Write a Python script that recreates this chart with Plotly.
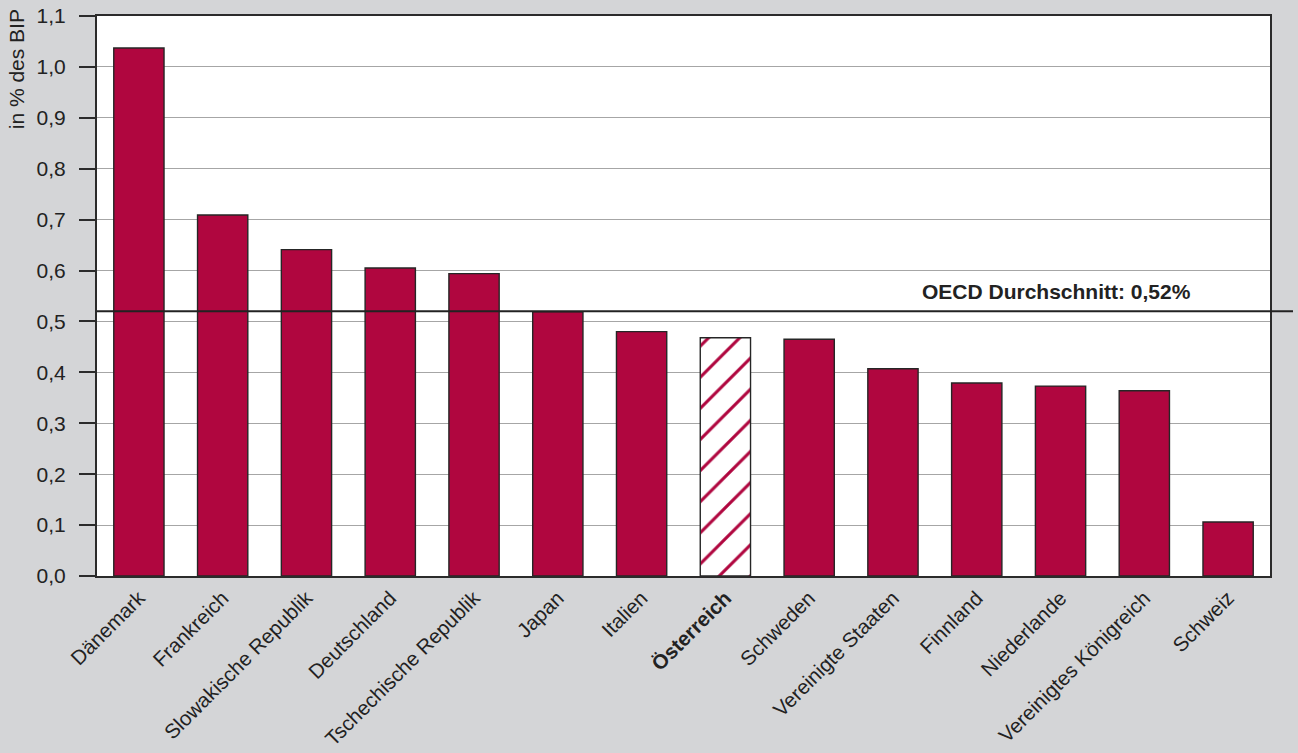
import plotly.graph_objects as go

countries = ["Dänemark", "Frankreich", "Slowakische Republik", "Deutschland",
             "Tschechische Republik", "Japan", "Italien", "Österreich", "Schweden",
             "Vereinigte Staaten", "Finnland", "Niederlande", "Vereinigtes Königreich", "Schweiz"]
values = [1.037, 0.709, 0.641, 0.605, 0.594, 0.519, 0.480, 0.468, 0.465,
          0.407, 0.379, 0.373, 0.364, 0.106]
highlight = "Österreich"
oecd_avg = 0.52
y_ticks = [0.0, 0.1, 0.2, 0.3, 0.4, 0.5, 0.6, 0.7, 0.8, 0.9, 1.0, 1.1]

RED = "#b0063f"
BG = "#d4d5d7"
FONT = "Liberation Sans, Arial, sans-serif"

shapes_pat = ["/" if c == highlight else "" for c in countries]
ticktext = [f"<b>{c}</b>" if c == highlight else c for c in countries]

fig = go.Figure()
fig.add_trace(go.Bar(
    x=countries, y=values, width=0.6,
    marker=dict(
        color=RED,
        line=dict(color="#262626", width=1.4),
        pattern=dict(shape=shapes_pat, fgcolor=RED, bgcolor="white",
                     size=22, solidity=0.14, fillmode="replace", fgopacity=1),
    ),
    hoverinfo="x+y",
))

fig.add_shape(type="line", xref="paper", yref="y", x0=0, x1=1.0196,
              y0=oecd_avg, y1=oecd_avg, line=dict(color="#222222", width=2.2),
              layer="above")
fig.add_annotation(xref="paper", yref="y", x=0.8176, y=oecd_avg, yanchor="bottom",
                   xanchor="center", yshift=6, showarrow=False,
                   text="<b>OECD Durchschnitt: 0,52%</b>",
                   font=dict(size=21, color="#222222", family=FONT))
fig.add_annotation(xref="paper", yref="paper", x=-0.069, y=0.905,
                   xanchor="center", yanchor="middle", textangle=-90, showarrow=False,
                   text="in % des BIP", font=dict(size=21, color="#222222", family=FONT))

fig.update_layout(
    width=1298, height=753,
    paper_bgcolor=BG, plot_bgcolor="white",
    margin=dict(l=97, r=28, t=16, b=177),
    separators=", ",
    showlegend=False,
    font=dict(family=FONT, size=21, color="#222222"),
    bargap=0.4,
)
fig.update_xaxes(
    tickmode="array", tickvals=countries, ticktext=ticktext, tickangle=-45,
    showline=True, linecolor="#2b2b2b", linewidth=2, mirror=True,
    ticks="", showgrid=False, automargin=False, ticklabelstandoff=0,
    tickfont=dict(size=20.5, family=FONT, color="#222222"),
)
fig.update_yaxes(
    range=[0, 1.1], tickvals=y_ticks, tickformat=".1f",
    showline=True, linecolor="#2b2b2b", linewidth=2, mirror=True,
    ticks="outside", ticklen=16, tickcolor="#2b2b2b", tickwidth=1.5,
    showgrid=True, gridcolor="#a6a6a6", gridwidth=1.2, zeroline=False,
    automargin=False, ticklabelstandoff=9,
    tickfont=dict(size=21, family=FONT, color="#222222"),
)

fig.write_html("out.html", config={"displayModeBar": False},
               post_script="document.body.style.margin='0';")
